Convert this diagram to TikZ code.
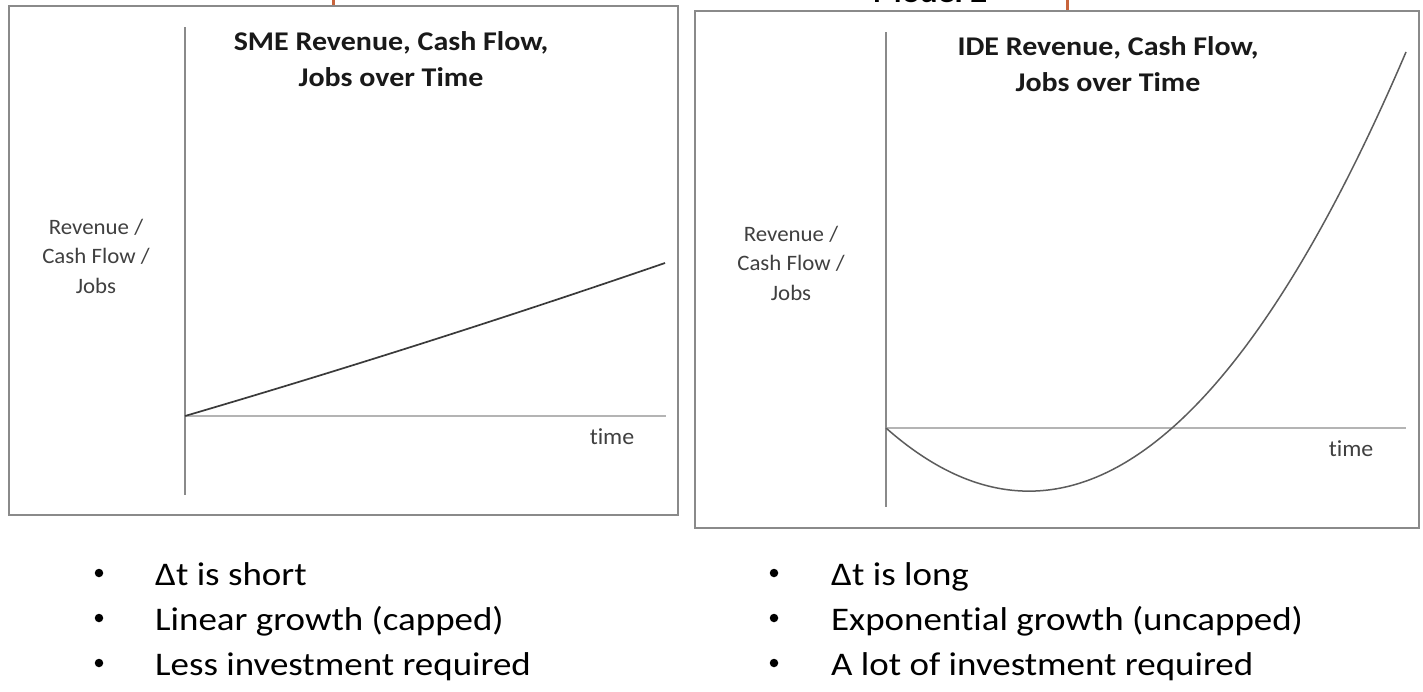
\documentclass[tikz,border=0pt]{standalone}
\usepackage{fontspec}
\setmainfont{Carlito}[Ligatures=NoCommon]
\newfontfamily\titlefont{Carlito}[FakeStretch=1.11,Ligatures=NoCommon]
\newfontfamily\bulletfont{Carlito}[FakeStretch=1.12,Ligatures=NoCommon]
\newfontfamily\labelfont{Carlito}[FakeStretch=1.04,Ligatures=NoCommon]
\definecolor{boxgray}{HTML}{8A8A8A}
\definecolor{axgray}{HTML}{8A8A8A}
\definecolor{axlight}{HTML}{B4B4B4}
\definecolor{curvedark}{HTML}{3A3A3A}
\definecolor{curvelight}{HTML}{5C5C5C}
\definecolor{labgray}{HTML}{404040}
\definecolor{orangemark}{HTML}{C8643C}
\begin{document}
\begin{tikzpicture}[x=1pt,y=-1pt,
  panel/.style={draw=boxgray, line width=2.8pt},
  yaxis/.style={draw=axgray, line width=1.2pt},
  xaxis/.style={draw=axlight, line width=2pt},
  curveA/.style={draw=curvedark, line width=1.7pt},
  curveB/.style={draw=curvelight, line width=1.5pt},
  ttl/.style={font=\titlefont\fontsize{27}{36}\selectfont\bfseries, align=center, text=black!90, inner sep=0pt},
  ylab/.style={font=\labelfont\fontsize{22}{29.5}\selectfont, align=center, text=labgray, inner sep=0pt},
  tlab/.style={font=\labelfont\fontsize{23}{26}\selectfont, text=labgray, inner sep=0pt},
  btxt/.style={font=\bulletfont\fontsize{33}{40}\selectfont, anchor=base west, inner sep=0pt, text=black},
  bdot/.style={circle, fill=black, inner sep=0pt, minimum size=8.5pt},
  orangetick/.style={draw=orangemark, line width=3pt}]
\useasboundingbox (0,0) rectangle (1423,691);
\fill[white] (0,0) rectangle (1423,691);

% cut-off header
\node[font=\titlefont\fontsize{30}{30}\selectfont\bfseries, anchor=base, inner sep=0pt] (hdr) at (930,2.5) {Model 2};
\coordinate (m1a) at (333,0); \coordinate (m1b) at (333,5);
\coordinate (m2a) at (1067,0); \coordinate (m2b) at (1067,10);
\draw[orangetick] (m1a) -- (m1b);
\draw[orangetick] (m2a) -- (m2b);

% ---------- left panel ----------
\coordinate (L1) at (9,6); \coordinate (L2) at (678,515);
\draw[panel] (L1) rectangle (L2);
\coordinate (Lo) at (185,416);
\coordinate (Ltop) at (185,27); \coordinate (Lbot) at (185,495);
\coordinate (Lx) at (666,416);
\draw[yaxis] (Ltop) -- (Lbot);
\draw[xaxis] (Lo) -- (Lx);
\coordinate (Lend) at (665,263);
\draw[curveA] (Lo) .. controls (345,369) and (505,318) .. (Lend);
\node[ttl] (Lttl) at (391,59) {SME Revenue, Cash Flow,\\Jobs over Time};
\node[ylab] (Lylab) at (96,256) {Revenue /\\Cash Flow /\\Jobs};
\node[tlab] (Ltime) at (612,437) {time};

% ---------- right panel ----------
\coordinate (R1) at (695,11); \coordinate (R2) at (1419,528);
\draw[panel] (R1) rectangle (R2);
\coordinate (Ro) at (886,428);
\coordinate (Rtop) at (886,32); \coordinate (Rbot) at (886,507);
\coordinate (Rx) at (1406,428);
\draw[yaxis] (Rtop) -- (Rbot);
\draw[xaxis] (Ro) -- (Rx);
\coordinate (Rend) at (1406,52);
\draw[curveB] (Ro) .. controls (1059,581) and (1233,456) .. (Rend);
\node[ttl] (Rttl) at (1108,64) {IDE Revenue, Cash Flow,\\Jobs over Time};
\node[ylab] (Rylab) at (791,263) {Revenue /\\Cash Flow /\\Jobs};
\node[tlab] (Rtime) at (1351,449) {time};

% ---------- bullets ----------
\node[bdot] (lb1) at (99,573) {};
\node[bdot] (lb2) at (99,618) {};
\node[bdot] (lb3) at (99,663) {};
\node[btxt] (lt1) at (155,585) {Δt is short};
\node[btxt] (lt2) at (155,630) {Linear growth (capped)};
\node[btxt] (lt3) at (155,675) {Less investment required};

\node[bdot] (rb1) at (774,573) {};
\node[bdot] (rb2) at (774,618) {};
\node[bdot] (rb3) at (774,663) {};
\node[btxt] (rt1) at (831,585) {Δt is long};
\node[btxt] (rt2) at (831,630) {Exponential growth (uncapped)};
\node[btxt] (rt3) at (831,675) {A lot of investment required};
\end{tikzpicture}
\end{document}
